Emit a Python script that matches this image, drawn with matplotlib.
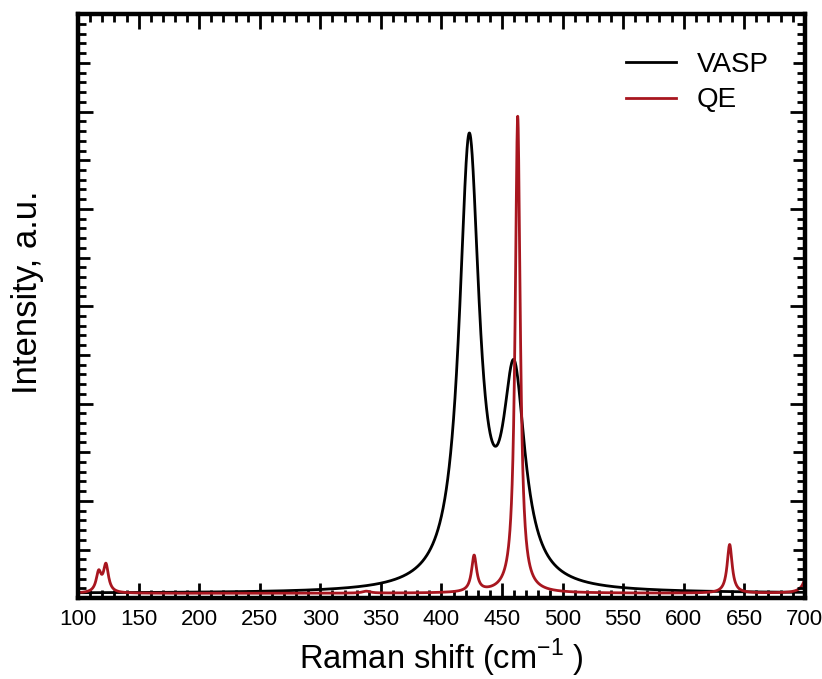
import numpy as np
import matplotlib
matplotlib.use('Agg')
import matplotlib.pyplot as plt
import matplotlib.transforms as mtransforms
from matplotlib.markers import TICKLEFT, TICKRIGHT
from matplotlib.ticker import MultipleLocator, NullLocator

plt.rcParams['font.family'] = ['Liberation Sans', 'DejaVu Sans']

# Raman modes: position (cm-1), intensity (a.u.), half width (cm-1)
vasp_pos = [423, 460]
vasp_int = [4.56, 2.09]
vasp_hw = [10.0, 11.0]
vasp_base = 0.05

qe_pos = [117, 123, 338, 427, 463, 638, 704]
qe_int = [0.20, 0.28, 0.02, 0.37, 4.90, 0.50, 0.42]
qe_hw = [2.5, 2.5, 4.0, 2.5, 2.5, 2.5, 3.0]
qe_base = 0.05

x_ticks = [100, 150, 200, 250, 300, 350, 400, 450, 500, 550, 600, 650, 700]


def spectrum(x, pos, inten, hw, base):
    y = np.full_like(x, base)
    for p, h, g in zip(pos, inten, hw):
        y += h * g**2 / ((x - p)**2 + g**2)
    return y


x = np.linspace(100, 700, 3001)
y_vasp = spectrum(x, vasp_pos, vasp_int, vasp_hw, vasp_base)
y_qe = spectrum(x, qe_pos, qe_int, qe_hw, qe_base)

fig = plt.figure(figsize=(8.22, 6.79), dpi=100)
ax = fig.add_axes([0.095, 0.119, 0.884, 0.860])

ax.plot(x, y_vasp, color='black', lw=2.0, label='VASP')
ax.plot(x, y_qe, color='#a8161f', lw=2.0, label='QE')

ax.set_xlim(100, 700)
ax.set_ylim(0, 6.0)
ax.set_xticks(x_ticks)
ax.xaxis.set_minor_locator(MultipleLocator(10))
ax.set_yticks(np.arange(0, 7))
ax.yaxis.set_minor_locator(NullLocator())
ax.tick_params(which='both', direction='in', top=True, right=True,
               width=2, color='black')
ax.tick_params(which='major', length=11, pad=8, labelsize=16)
ax.tick_params(which='minor', length=5.5)
ax.tick_params(axis='y', labelleft=False)
for sp in ax.spines.values():
    sp.set_linewidth(3.2)

# intensity axis sub-ticks: every 0.1, longer at the half units
sub = np.round(np.arange(0.1, 6, 0.1), 1)
sub = sub[np.abs(sub - np.round(sub)) > 1e-6]
is_half = np.isclose(sub % 1, 0.5)
trans = mtransforms.blended_transform_factory(ax.transAxes, ax.transData)
for mask, size in ((is_half, 8.5), (~is_half, 5.5)):
    ax.plot(np.zeros(mask.sum()), sub[mask], ls='none', marker=TICKRIGHT,
            ms=size, mew=2, color='black', transform=trans, clip_on=False)
    ax.plot(np.ones(mask.sum()), sub[mask], ls='none', marker=TICKLEFT,
            ms=size, mew=2, color='black', transform=trans, clip_on=False)

ax.set_xlabel(r'Raman shift (cm$^{\mathregular{-1}}$ )', fontsize=23.5, labelpad=5)
ax.set_ylabel('Intensity, a.u.', fontsize=25)
ax.yaxis.set_label_coords(-0.047, 0.524)

ax.legend(handles=ax.lines[:2], loc='upper left', bbox_to_anchor=(0.754, 0.935),
          frameon=False, fontsize=20, handlelength=1.8, handletextpad=0.75,
          labelspacing=0.33, borderpad=0, borderaxespad=0)

fig.savefig('out.png', dpi=100)
